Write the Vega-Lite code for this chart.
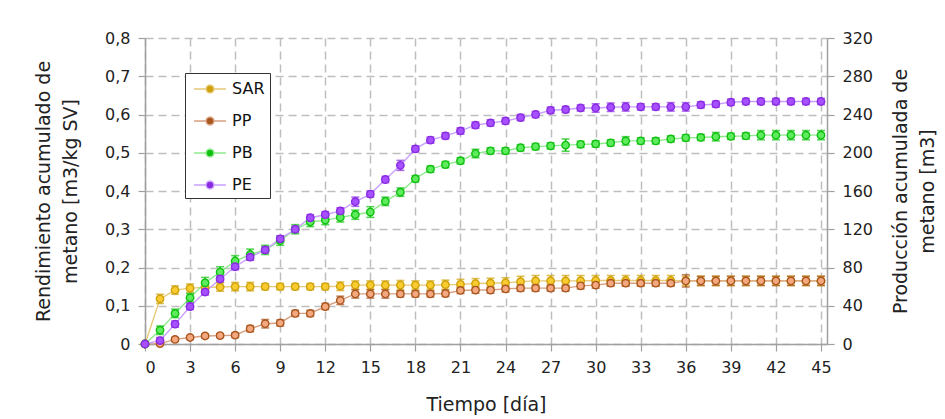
{
  "$schema": "https://vega.github.io/schema/vega-lite/v6.json",
  "autosize": "none",
  "width": 682,
  "height": 306,
  "padding": {"left": 145, "top": 38, "right": 118, "bottom": 75},
  "background": "white",
  "config": {
    "font": "DejaVu Sans",
    "view": {"stroke": null},
    "axis": {
      "labelFont": "DejaVu Sans", "titleFont": "DejaVu Sans",
      "labelFontSize": 16, "titleFontSize": 19, "titleFontWeight": "normal", "titleLineHeight": 27,
      "labelColor": "#222", "titleColor": "#222", "labelOverlap": false,
      "domainColor": "#A0A0A0", "domainWidth": 1.5,
      "tickColor": "#A0A0A0", "tickWidth": 1.2, "tickSize": 7,
      "gridColor": "#BEBEBE", "gridDash": [8, 5], "gridWidth": 1.5
    }
  },
  "data": {"values": [
    {"s":"SAR","d":0,"y":0,"e":0.004},{"s":"SAR","d":1,"y":0.118,"e":0.012},{"s":"SAR","d":2,"y":0.141,"e":0.011},{"s":"SAR","d":3,"y":0.146,"e":0.011},{"s":"SAR","d":4,"y":0.148,"e":0.011},{"s":"SAR","d":5,"y":0.149,"e":0.011},{"s":"SAR","d":6,"y":0.15,"e":0.011},{"s":"SAR","d":7,"y":0.15,"e":0.011},{"s":"SAR","d":8,"y":0.15,"e":0.008},{"s":"SAR","d":9,"y":0.15,"e":0.008},{"s":"SAR","d":10,"y":0.15,"e":0.008},{"s":"SAR","d":11,"y":0.15,"e":0.008},{"s":"SAR","d":12,"y":0.15,"e":0.008},{"s":"SAR","d":13,"y":0.151,"e":0.011},{"s":"SAR","d":14,"y":0.154,"e":0.011},{"s":"SAR","d":15,"y":0.154,"e":0.011},{"s":"SAR","d":16,"y":0.154,"e":0.011},{"s":"SAR","d":17,"y":0.154,"e":0.012},{"s":"SAR","d":18,"y":0.154,"e":0.011},{"s":"SAR","d":19,"y":0.154,"e":0.011},{"s":"SAR","d":20,"y":0.155,"e":0.012},{"s":"SAR","d":21,"y":0.156,"e":0.013},{"s":"SAR","d":22,"y":0.158,"e":0.013},{"s":"SAR","d":23,"y":0.159,"e":0.013},{"s":"SAR","d":24,"y":0.16,"e":0.013},{"s":"SAR","d":25,"y":0.163,"e":0.014},{"s":"SAR","d":26,"y":0.165,"e":0.014},{"s":"SAR","d":27,"y":0.165,"e":0.014},{"s":"SAR","d":28,"y":0.165,"e":0.014},{"s":"SAR","d":29,"y":0.165,"e":0.014},{"s":"SAR","d":30,"y":0.166,"e":0.013},{"s":"SAR","d":31,"y":0.166,"e":0.013},{"s":"SAR","d":32,"y":0.166,"e":0.013},{"s":"SAR","d":33,"y":0.166,"e":0.013},{"s":"SAR","d":34,"y":0.166,"e":0.013},{"s":"SAR","d":35,"y":0.166,"e":0.013},{"s":"SAR","d":36,"y":0.165,"e":0.012},{"s":"SAR","d":37,"y":0.165,"e":0.012},{"s":"SAR","d":38,"y":0.165,"e":0.012},{"s":"SAR","d":39,"y":0.165,"e":0.012},{"s":"SAR","d":40,"y":0.165,"e":0.012},{"s":"SAR","d":41,"y":0.165,"e":0.012},{"s":"SAR","d":42,"y":0.165,"e":0.012},{"s":"SAR","d":43,"y":0.165,"e":0.012},{"s":"SAR","d":44,"y":0.165,"e":0.012},{"s":"SAR","d":45,"y":0.165,"e":0.012},
    {"s":"PP","d":0,"y":0,"e":0.003},{"s":"PP","d":1,"y":0.001,"e":0.004},{"s":"PP","d":2,"y":0.012,"e":0.005},{"s":"PP","d":3,"y":0.017,"e":0.005},{"s":"PP","d":4,"y":0.021,"e":0.005},{"s":"PP","d":5,"y":0.022,"e":0.005},{"s":"PP","d":6,"y":0.023,"e":0.006},{"s":"PP","d":7,"y":0.04,"e":0.008},{"s":"PP","d":8,"y":0.053,"e":0.011},{"s":"PP","d":9,"y":0.055,"e":0.008},{"s":"PP","d":10,"y":0.08,"e":0.008},{"s":"PP","d":11,"y":0.08,"e":0.008},{"s":"PP","d":12,"y":0.098,"e":0.008},{"s":"PP","d":13,"y":0.114,"e":0.011},{"s":"PP","d":14,"y":0.131,"e":0.011},{"s":"PP","d":15,"y":0.131,"e":0.011},{"s":"PP","d":16,"y":0.131,"e":0.011},{"s":"PP","d":17,"y":0.131,"e":0.008},{"s":"PP","d":18,"y":0.131,"e":0.008},{"s":"PP","d":19,"y":0.131,"e":0.008},{"s":"PP","d":20,"y":0.132,"e":0.008},{"s":"PP","d":21,"y":0.14,"e":0.008},{"s":"PP","d":22,"y":0.141,"e":0.008},{"s":"PP","d":23,"y":0.141,"e":0.008},{"s":"PP","d":24,"y":0.144,"e":0.008},{"s":"PP","d":25,"y":0.146,"e":0.008},{"s":"PP","d":26,"y":0.146,"e":0.008},{"s":"PP","d":27,"y":0.146,"e":0.008},{"s":"PP","d":28,"y":0.146,"e":0.008},{"s":"PP","d":29,"y":0.152,"e":0.008},{"s":"PP","d":30,"y":0.154,"e":0.008},{"s":"PP","d":31,"y":0.159,"e":0.008},{"s":"PP","d":32,"y":0.159,"e":0.008},{"s":"PP","d":33,"y":0.159,"e":0.008},{"s":"PP","d":34,"y":0.159,"e":0.008},{"s":"PP","d":35,"y":0.159,"e":0.008},{"s":"PP","d":36,"y":0.165,"e":0.016},{"s":"PP","d":37,"y":0.165,"e":0.012},{"s":"PP","d":38,"y":0.165,"e":0.012},{"s":"PP","d":39,"y":0.165,"e":0.012},{"s":"PP","d":40,"y":0.165,"e":0.012},{"s":"PP","d":41,"y":0.165,"e":0.012},{"s":"PP","d":42,"y":0.165,"e":0.012},{"s":"PP","d":43,"y":0.165,"e":0.012},{"s":"PP","d":44,"y":0.165,"e":0.012},{"s":"PP","d":45,"y":0.165,"e":0.012},
    {"s":"PB","d":0,"y":0,"e":0.003},{"s":"PB","d":1,"y":0.036,"e":0.011},{"s":"PB","d":2,"y":0.08,"e":0.011},{"s":"PB","d":3,"y":0.121,"e":0.011},{"s":"PB","d":4,"y":0.16,"e":0.014},{"s":"PB","d":5,"y":0.188,"e":0.014},{"s":"PB","d":6,"y":0.217,"e":0.014},{"s":"PB","d":7,"y":0.234,"e":0.014},{"s":"PB","d":8,"y":0.246,"e":0.012},{"s":"PB","d":9,"y":0.27,"e":0.012},{"s":"PB","d":10,"y":0.3,"e":0.012},{"s":"PB","d":11,"y":0.319,"e":0.012},{"s":"PB","d":12,"y":0.324,"e":0.012},{"s":"PB","d":13,"y":0.331,"e":0.012},{"s":"PB","d":14,"y":0.338,"e":0.012},{"s":"PB","d":15,"y":0.345,"e":0.014},{"s":"PB","d":16,"y":0.373,"e":0.011},{"s":"PB","d":17,"y":0.397,"e":0.011},{"s":"PB","d":18,"y":0.432,"e":0.008},{"s":"PB","d":19,"y":0.457,"e":0.008},{"s":"PB","d":20,"y":0.469,"e":0.008},{"s":"PB","d":21,"y":0.479,"e":0.008},{"s":"PB","d":22,"y":0.498,"e":0.011},{"s":"PB","d":23,"y":0.505,"e":0.008},{"s":"PB","d":24,"y":0.505,"e":0.008},{"s":"PB","d":25,"y":0.513,"e":0.008},{"s":"PB","d":26,"y":0.516,"e":0.008},{"s":"PB","d":27,"y":0.518,"e":0.008},{"s":"PB","d":28,"y":0.52,"e":0.016},{"s":"PB","d":29,"y":0.522,"e":0.008},{"s":"PB","d":30,"y":0.523,"e":0.008},{"s":"PB","d":31,"y":0.526,"e":0.008},{"s":"PB","d":32,"y":0.531,"e":0.011},{"s":"PB","d":33,"y":0.531,"e":0.008},{"s":"PB","d":34,"y":0.531,"e":0.008},{"s":"PB","d":35,"y":0.536,"e":0.008},{"s":"PB","d":36,"y":0.539,"e":0.008},{"s":"PB","d":37,"y":0.54,"e":0.008},{"s":"PB","d":38,"y":0.542,"e":0.011},{"s":"PB","d":39,"y":0.543,"e":0.008},{"s":"PB","d":40,"y":0.544,"e":0.008},{"s":"PB","d":41,"y":0.546,"e":0.012},{"s":"PB","d":42,"y":0.546,"e":0.012},{"s":"PB","d":43,"y":0.546,"e":0.012},{"s":"PB","d":44,"y":0.546,"e":0.012},{"s":"PB","d":45,"y":0.546,"e":0.012},
    {"s":"PE","d":0,"y":0,"e":0.003},{"s":"PE","d":1,"y":0.009,"e":0.008},{"s":"PE","d":2,"y":0.052,"e":0.008},{"s":"PE","d":3,"y":0.098,"e":0.008},{"s":"PE","d":4,"y":0.136,"e":0.008},{"s":"PE","d":5,"y":0.17,"e":0.008},{"s":"PE","d":6,"y":0.202,"e":0.008},{"s":"PE","d":7,"y":0.227,"e":0.008},{"s":"PE","d":8,"y":0.246,"e":0.008},{"s":"PE","d":9,"y":0.275,"e":0.008},{"s":"PE","d":10,"y":0.3,"e":0.008},{"s":"PE","d":11,"y":0.33,"e":0.008},{"s":"PE","d":12,"y":0.338,"e":0.008},{"s":"PE","d":13,"y":0.348,"e":0.008},{"s":"PE","d":14,"y":0.372,"e":0.012},{"s":"PE","d":15,"y":0.392,"e":0.008},{"s":"PE","d":16,"y":0.43,"e":0.008},{"s":"PE","d":17,"y":0.467,"e":0.013},{"s":"PE","d":18,"y":0.51,"e":0.008},{"s":"PE","d":19,"y":0.533,"e":0.008},{"s":"PE","d":20,"y":0.544,"e":0.008},{"s":"PE","d":21,"y":0.557,"e":0.008},{"s":"PE","d":22,"y":0.572,"e":0.008},{"s":"PE","d":23,"y":0.578,"e":0.008},{"s":"PE","d":24,"y":0.583,"e":0.008},{"s":"PE","d":25,"y":0.592,"e":0.008},{"s":"PE","d":26,"y":0.6,"e":0.008},{"s":"PE","d":27,"y":0.611,"e":0.008},{"s":"PE","d":28,"y":0.613,"e":0.008},{"s":"PE","d":29,"y":0.617,"e":0.008},{"s":"PE","d":30,"y":0.617,"e":0.011},{"s":"PE","d":31,"y":0.619,"e":0.011},{"s":"PE","d":32,"y":0.62,"e":0.011},{"s":"PE","d":33,"y":0.62,"e":0.008},{"s":"PE","d":34,"y":0.62,"e":0.008},{"s":"PE","d":35,"y":0.62,"e":0.011},{"s":"PE","d":36,"y":0.62,"e":0.011},{"s":"PE","d":37,"y":0.625,"e":0.008},{"s":"PE","d":38,"y":0.627,"e":0.008},{"s":"PE","d":39,"y":0.632,"e":0.008},{"s":"PE","d":40,"y":0.634,"e":0.008},{"s":"PE","d":41,"y":0.634,"e":0.008},{"s":"PE","d":42,"y":0.634,"e":0.008},{"s":"PE","d":43,"y":0.634,"e":0.008},{"s":"PE","d":44,"y":0.634,"e":0.008},{"s":"PE","d":45,"y":0.634,"e":0.008}
  ]},
  "encoding": {
    "x": {
      "field": "d", "type": "quantitative",
      "scale": {"domain": [0, 45.4], "nice": false, "zero": false},
      "axis": {"values": [0,3,6,9,12,15,18,21,24,27,30,33,36,39,42,45], "title": "Tiempo [día]", "labelPadding": 8, "titlePadding": 20, "grid": true}
    }
  },
  "layer": [
    {
      "mark": {"type": "line", "strokeWidth": 1.4},
      "encoding": {
        "y": {"field": "y", "type": "quantitative", "scale": {"domain": [0, 0.8], "nice": false},
          "axis": {"values": [0,0.1,0.2,0.3,0.4,0.5,0.6,0.7,0.8], "labelExpr": "datum.value == 0 ? '0' : replace(format(datum.value, '.1f'), '.', ',')", "title": ["Rendimiento acumulado de", "metano [m3/kg SV]"], "labelPadding": 8, "titlePadding": 24, "grid": true}},
        "stroke": {"field": "s", "type": "nominal",
          "scale": {"domain": ["SAR","PP","PB","PE"], "range": ["#E6C878","#D8A080","#8EEA8E","#C9A0FF"]},
          "legend": {"orient": "none", "legendX": 40, "legendY": 35, "title": null, "strokeColor": "#333", "fillColor": "white", "padding": 5, "symbolOffset": 9, "labelOffset": 11, "rowPadding": 13, "symbolSize": 400, "symbolStrokeWidth": 1.4, "symbolType": "M-1.6,0L-0.4,0M0.4,0L1.6,0M0.4,0L0.346,0.2L0.2,0.346L0,0.4L-0.2,0.346L-0.346,0.2L-0.4,0L-0.346,-0.2L-0.2,-0.346L0,-0.4L0.2,-0.346L0.346,-0.2Z", "labelFont": "DejaVu Sans", "labelFontSize": 16, "labelColor": "#111",
            "encode": {"symbols": {"update": {"fill": [{"test": "datum.value === 'SAR'", "value": "#F8CB30"}, {"test": "datum.value === 'PP'", "value": "#F4A880"}, {"test": "datum.value === 'PB'", "value": "#5EEB5E"}, {"value": "#A650FF"}]}}}}}
      }
    },
    {
      "mark": {"type": "errorbar", "ticks": {"size": 8, "strokeWidth": 1.6}, "thickness": 1.6},
      "encoding": {
        "y": {"field": "y", "type": "quantitative", "scale": {"domain": [0, 0.8], "nice": false}, "axis": null},
        "yError": {"field": "e"},
        "color": {"field": "s", "type": "nominal", "legend": null,
          "scale": {"domain": ["SAR","PP","PB","PE"], "range": ["#CFA20A","#A9561F","#10C010","#8A2BE2"]}}
      }
    },
    {
      "mark": {"type": "point", "filled": false, "shape": "circle", "size": 55, "strokeWidth": 1.4, "opacity": 1},
      "encoding": {
        "y": {"field": "y", "type": "quantitative", "scale": {"domain": [0, 0.8], "nice": false}, "axis": null},
        "color": {"field": "s", "type": "nominal", "legend": null,
          "scale": {"domain": ["SAR","PP","PB","PE"], "range": ["#CFA20A","#A9561F","#10C010","#8A2BE2"]}},
        "fill": {"field": "s", "type": "nominal", "legend": null,
          "scale": {"domain": ["SAR","PP","PB","PE"], "range": ["#F8CB30","#F4A880","#5EEB5E","#A650FF"]}}
      }
    },
    {
      "mark": {"type": "point", "opacity": 0},
      "encoding": {
        "y": {"field": "y", "type": "quantitative", "scale": {"domain": [0, 0.8], "nice": false},
          "axis": {"orient": "right", "values": [0,0.1,0.2,0.3,0.4,0.5,0.6,0.7,0.8], "labelExpr": "format(datum.value * 400, '.0f')", "title": ["Producción acumulada de", "metano [m3]"], "titleAngle": 270, "labelPadding": 8, "titlePadding": 11, "grid": false}}
      }
    }
  ],
  "resolve": {"scale": {"y": "independent"}}
}
